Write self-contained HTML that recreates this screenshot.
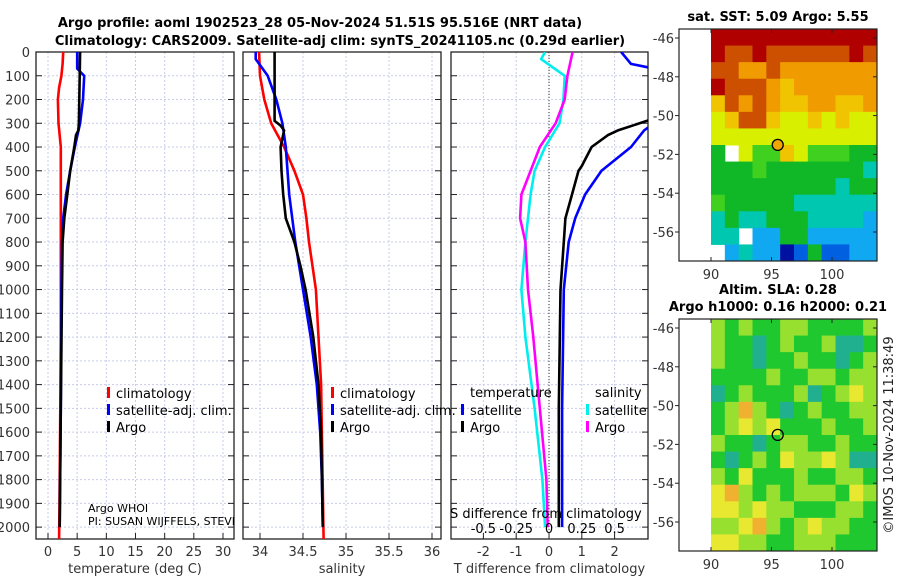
<!DOCTYPE html>
<html><head><meta charset="utf-8"><style>
body{margin:0;background:#fff;}
svg{display:block;font-family:"DejaVu Sans","Liberation Sans",sans-serif;}
.tk{font-size:13px;fill:#333;}
.ttl{font-size:13px;font-weight:bold;fill:#000;}
</style></head><body>
<svg id="chart" width="900" height="580" viewBox="0 0 900 580" xmlns="http://www.w3.org/2000/svg">
<text class="ttl" x="320" y="27" text-anchor="middle">Argo profile: aoml 1902523_28 05-Nov-2024 51.51S 95.516E (NRT data)</text>
<text class="ttl" x="340" y="45" text-anchor="middle">Climatology: CARS2009. Satellite-adj clim: synTS_20241105.nc (0.29d earlier)</text>
<g id="g"></g>
</svg>
<script>
// ---------- data ----------
const depthTicks=[0,100,200,300,400,500,600,700,800,900,1000,1100,1200,1300,1400,1500,1600,1700,1800,1900,2000];
const tTicks=[0,5,10,15,20,25,30];
const sTicks=[34,34.5,35,35.5,36];
const sTickLabels=["34","34.5","35","35.5","36"];
const dTTicks=[-2,-1,0,1,2];
const dSTicks=[-0.5,-0.25,0,0.25,0.5];
const dSTickLabels=["-0.5","-0.25","0","0.25","0.5"];

const climTDepth=[0,50,100,150,200,300,400,500,600,800,1000,1200,1500,1800,2050];
const climT=[2.6,2.5,2.3,1.9,1.7,1.8,2.2,2.2,2.2,2.2,2.2,2.2,2.1,2.0,1.9];
const satTDepth=[0,70,90,100,200,300,400,500,600,700,800,1000,1500,2000];
const satT=[5.0,5.0,5.8,6.2,6.0,5.5,4.6,3.8,3.1,2.6,2.4,2.3,2.2,2.0];
const argoTDepth=[0,300,330,350,400,500,600,700,800,1000,1500,2000];
const argoT=[5.5,5.3,5.2,4.8,4.5,3.8,3.3,2.8,2.5,2.4,2.2,2.0];

const climSDepth=[0,100,200,300,400,500,600,700,800,1000,1200,1400,2050];
const climS=[33.99,34.0,34.05,34.13,34.28,34.40,34.50,34.54,34.57,34.65,34.68,34.71,34.74];
const satSDepth=[0,30,70,100,200,300,400,600,800,1000,1200,1400,1600,1800,2000];
const satS=[33.95,33.95,34.03,34.09,34.19,34.26,34.30,34.34,34.41,34.50,34.59,34.66,34.70,34.72,34.73];
const argoSDepth=[0,290,310,330,400,500,600,700,800,900,1000,1200,1400,1600,2000];
const argoS=[34.17,34.17,34.24,34.28,34.24,34.25,34.27,34.30,34.40,34.47,34.53,34.62,34.68,34.71,34.73];

const dTSatDepth=[0,50,70,300,330,400,500,600,700,800,1000,1500,2000];
const dTSat=[2.2,2.5,3.2,3.2,2.9,2.5,1.6,1.1,0.8,0.6,0.45,0.4,0.4];
const dTArgoDepth=[0,280,330,350,400,480,500,600,700,800,1000,1500,2000];
const dTArgo=[3.2,3.2,2.1,1.8,1.3,1.0,0.9,0.7,0.5,0.45,0.35,0.3,0.3];
const dSSatDepth=[0,30,100,200,300,400,500,600,800,1000,1200,1500,1800,2000];
const dSSat=[-0.03,-0.06,0.12,0.11,0.08,-0.03,-0.11,-0.14,-0.18,-0.21,-0.18,-0.11,-0.05,-0.03];
const dSArgoDepth=[0,100,200,300,400,500,600,700,800,1000,1200,1500,1800,2000];
const dSArgo=[0.18,0.14,0.12,0.05,-0.07,-0.14,-0.21,-0.22,-0.18,-0.16,-0.12,-0.07,-0.02,-0.01];

const sstGrid=[
[10,10,10,10,10,10,10,10,10,10,10,10],
[10,9,9,10,9,9,9,9,9,9,10,9],
[9,9,8,8,9,8,8,8,8,8,8,8],
[10,9,9,9,8,7,8,8,8,8,8,8],
[7,9,8,9,8,7,7,8,8,7,7,8],
[6,7,9,9,7,6,6,7,6,7,6,6],
[6,6,6,6,6,6,6,6,6,6,6,6],
[4,-1,6,5,5,7,6,5,5,5,4,4],
[4,4,4,5,4,4,4,4,4,4,4,3],
[4,4,4,4,4,4,4,4,4,3,4,4],
[5,4,4,4,4,4,3,3,3,3,3,3],
[3,4,3,3,4,4,4,3,3,3,3,2],
[3,3,-1,2,2,4,4,2,2,2,2,2],
[-1,2,3,2,2,0,1,4,1,1,2,2]];
const slaGrid=[
[2,1,2,1,1,2,2,1,1,1,1,2],
[2,1,1,0,1,2,1,1,2,0,0,1],
[2,1,1,0,1,1,2,1,1,0,1,2],
[1,1,1,1,2,1,1,2,2,1,2,2],
[0,1,2,1,1,1,2,0,1,2,3,2],
[1,2,4,2,1,0,1,2,1,1,2,2],
[1,2,3,2,3,1,1,1,2,1,1,2],
[2,1,1,0,1,2,2,1,1,2,1,1],
[1,0,1,2,1,3,2,2,3,2,0,0],
[2,1,3,1,1,1,2,1,1,2,2,1],
[3,4,2,1,2,1,2,2,2,1,3,2],
[3,3,2,3,2,2,1,1,1,2,2,1],
[2,2,3,4,2,1,2,3,2,2,1,1],
[3,3,2,2,1,1,2,2,2,1,1,1]];
const latTicks=[-46,-48,-50,-52,-54,-56];
const lonTicks=[90,95,100];
const floatLon=95.516, floatLat=-51.51;

// ---------- drawing ----------
const NS="http://www.w3.org/2000/svg";
const G=document.getElementById('g');
function mk(tag,attrs,parent){const e=document.createElementNS(NS,tag);for(const k in attrs)e.setAttribute(k,attrs[k]);(parent||G).appendChild(e);return e;}
const yTop=52,yBot=539,dMax=2050;
const yD=d=>yTop+d/dMax*(yBot-yTop);
function lin(d0,d1,r0,r1){return v=>r0+(v-d0)/(d1-d0)*(r1-r0);}

function panel(name,x0,x1,xs,ticks,labels,xlabel,yl){
  const grid=mk('g',{});
  
  
  depthTicks.forEach(d=>{mk('line',{x1:x0,x2:x1,y1:yD(d),y2:yD(d),stroke:'#c8cce8','stroke-width':1,'stroke-dasharray':'2,2'},grid);
    mk('line',{x1:x0,x2:x0+6,y1:yD(d),y2:yD(d),stroke:'#222'},grid);mk('line',{x1:x1-6,x2:x1,y1:yD(d),y2:yD(d),stroke:'#222'},grid);
    if(yl){const t=mk('text',{x:30,y:yD(d)+5,class:'tk','text-anchor':'end'});t.textContent=d;
      
      }
  });
  ticks.forEach((v,i)=>{const x=xs(v);mk('line',{x1:x,x2:x,y1:yTop,y2:yBot,stroke:'#c8cce8','stroke-dasharray':'2,2'},grid);
    mk('line',{x1:x,x2:x,y1:yBot-6,y2:yBot,stroke:'#222'},grid);
    const t=mk('text',{x:x,y:556,class:'tk','text-anchor':'middle'});t.textContent=labels[i];
    
    });
  const f=mk('rect',{x:x0,y:yTop,width:x1-x0,height:yBot-yTop,fill:'none',stroke:'#222','stroke-width':1.3});
  
  
  const xl=mk('text',{x:(x0+x1)/2,y:573,class:'tk','text-anchor':'middle'});xl.textContent=xlabel;
  
  
}
function clipFor(id,x0,x1){const c=mk('clipPath',{id:id});mk('rect',{x:x0,y:yTop,width:x1-x0,height:yBot-yTop},c);}
function series(name,depths,vals,xs,color,clip){
  const pts=depths.map((d,i)=>xs(vals[i]).toFixed(1)+','+yD(d).toFixed(1)).join(' ');
  const p=mk('polyline',{points:pts,fill:'none',stroke:color,'stroke-width':2.6,'stroke-linejoin':'round','clip-path':'url(#'+clip+')'});
  
  
}
function legend(name,x,y,items){
  items.forEach((it,i)=>{
    const yy=y+i*17;
    mk('rect',{x:x,y:yy-10,width:3,height:11,fill:it[1]});
    const t=mk('text',{x:x+9,y:yy+1,class:'tk',fill:'#000'});t.textContent=it[0];t.style.fill='#000';
    
    
  });
}

// panel 1 temperature
const xT=lin(0,30,48,223);
panel('temperature-panel',36,234,xT,tTicks,tTicks.map(String),'temperature (deg C)',true);
clipFor('c1',36,234);
series('temp-climatology-line',climTDepth,climT,xT,'#f00','c1');
series('temp-satellite-line',satTDepth,satT,xT,'#00f','c1');
series('temp-argo-line',argoTDepth,argoT,xT,'#000','c1');
legend('temperature-legend',107,397,[['climatology','#f00'],['satellite-adj. clim.','#00f'],['Argo','#000']]);
const w1=mk('text',{x:88,y:512,'font-size':11});w1.textContent='Argo WHOI';


const cp=mk('clipPath',{id:'cpi'});mk('rect',{x:36,y:500,width:198,height:40},cp);
const w2=mk('text',{x:88,y:525,'font-size':11,'clip-path':'url(#cpi)'});w2.textContent='PI: SUSAN WIJFFELS, STEVEN JAYNE';



// panel 2 salinity
const xS=lin(34,36,260,432);
panel('salinity-panel',243,441,xS,sTicks,sTickLabels,'salinity',false);
clipFor('c2',243,441);
series('sal-climatology-line',climSDepth,climS,xS,'#f00','c2');
series('sal-satellite-line',satSDepth,satS,xS,'#00f','c2');
series('sal-argo-line',argoSDepth,argoS,xS,'#000','c2');
legend('salinity-legend',331,397,[['climatology','#f00'],['satellite-adj. clim.','#00f'],['Argo','#000']]);

// panel 3 differences
const xDT=lin(0,1,549,581.8);
const xDS=v=>xDT(v*4);
panel('difference-panel',451,648,xDT,dTTicks,dTTicks.map(String),'T difference from climatology',false);
mk('line',{x1:xDT(0),x2:xDT(0),y1:yTop,y2:yBot,stroke:'#333','stroke-dasharray':'1,2'});
clipFor('c3',451,648);
series('dT-satellite-line',dTSatDepth,dTSat,xDT,'#00f','c3');
series('dT-argo-line',dTArgoDepth,dTArgo,xDT,'#000','c3');
series('dS-satellite-line',dSSatDepth,dSSat,xDS,'#0ee','c3');
series('dS-argo-line',dSArgoDepth,dSArgo,xDS,'#f0f','c3');
const lt=mk('text',{x:470,y:397,class:'tk'});lt.textContent='temperature';lt.style.fill='#000';


legend('temp-diff-legend',461,414,[['satellite','#00f'],['Argo','#000']]);
const ls=mk('text',{x:595,y:397,class:'tk'});ls.textContent='salinity';ls.style.fill='#000';


legend('sal-diff-legend',586,414,[['satellite','#0ee'],['Argo','#f0f']]);
const st=mk('text',{x:450,y:518,class:'tk'});st.textContent='S difference from climatology';st.style.fill='#000';


dSTicks.forEach((v,i)=>{const t=mk('text',{x:xDS(v),y:533,class:'tk','text-anchor':'middle'});t.textContent=dSTickLabels[i];t.style.fill='#000';
  
  });

// maps
const sstPal=['#0010a0','#0060e0','#10a8f0','#00c8b0','#10b828','#40d020','#d8f000','#f0c400','#f09c00','#cc5000','#b00000'];
const slaPal=['#20b090','#20c830','#98e030','#e8e830','#f0b030'];
function map(name,y0,title,grid,pal,dotFill){
  const x0=679,x1=877,y1=y0+232,dx0=711;
  const lonX=lin(90,100,711,832), latY=lin(-46,-56,y0+9,y0+203);
  const cw=(x1-dx0)/12, ch=232/14;
  const g=mk('g',{});
  
  
  grid.forEach((row,r)=>row.forEach((v,c)=>{ if(v<0)return;
    const cell=mk('rect',{x:dx0+c*cw,y:y0+r*ch,width:cw+0.5,height:ch+0.5,fill:pal[v]},g);
    
    
  }));
  latTicks.forEach(l=>{const y=latY(l);mk('line',{x1:x0,x2:x0-4,y1:y,y2:y,stroke:'#222'});mk('line',{x1:x1,x2:x1-4,y1:y,y2:y,stroke:'#222'});
    const t=mk('text',{x:674,y:y+5,class:'tk','text-anchor':'end'});t.textContent=l;
    
    });
  lonTicks.forEach(l=>{const x=lonX(l);mk('line',{x1:x,x2:x,y1:y1,y2:y1-4,stroke:'#222'});mk('line',{x1:x,x2:x,y1:y0,y2:y0+4,stroke:'#222'});
    const t=mk('text',{x:x,y:y1+18,class:'tk','text-anchor':'middle'});t.textContent=l;
    
    });
  const f=mk('rect',{x:x0,y:y0,width:x1-x0,height:232,fill:'none',stroke:'#222','stroke-width':1.2});
  
  
  const dot=mk('circle',{cx:lonX(floatLon),cy:latY(floatLat),r:5.5,fill:dotFill,stroke:'#000','stroke-width':1.3});
  
  
  title.forEach((s,i)=>{const t=mk('text',{x:778,y:y0-(title.length-1-i)*17-8,class:'ttl','text-anchor':'middle'});t.textContent=s;
    
    });
}
map('sst-map',29,['sat. SST: 5.09 Argo: 5.55'],sstGrid,sstPal,'#f0a800');
map('sla-map',319,['Altim. SLA: 0.28','Argo h1000: 0.16 h2000: 0.21'],slaGrid,slaPal,'none');
const cr=mk('text',{x:893,y:435,class:'tk','text-anchor':'middle',transform:'rotate(-90 893 435)'});cr.textContent='©IMOS 10-Nov-2024 11:38:49';cr.style.fill='#222';


</script>
</body></html>
